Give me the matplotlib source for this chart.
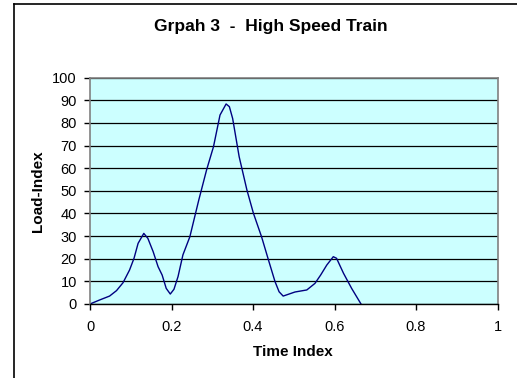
import matplotlib
matplotlib.use("Agg")
import matplotlib.pyplot as plt
from matplotlib.lines import Line2D

plt.rcParams['font.family'] = ['Liberation Sans', 'DejaVu Sans']

# Time index vs load index
time_idx = [0, 0.024, 0.048, 0.065, 0.081, 0.097, 0.108, 0.118, 0.132, 0.142,
            0.155, 0.167, 0.177, 0.187, 0.197, 0.206, 0.216, 0.228, 0.245, 0.267,
            0.286, 0.303, 0.319, 0.334, 0.342, 0.350, 0.366, 0.385, 0.401, 0.421,
            0.438, 0.454, 0.464, 0.474, 0.503, 0.532, 0.552, 0.566, 0.581, 0.597,
            0.605, 0.622, 0.642, 0.665]
load_idx = [0, 1.8, 3.5, 5.9, 9.4, 15, 20.2, 26.8, 31.2, 29,
            23.1, 16.5, 12.8, 6.9, 4.4, 6.5, 12.1, 21.7, 29.7, 46,
            59.2, 69.5, 83.5, 88.4, 87.2, 82, 65.1, 50.4, 40.1, 29.7,
            19.4, 9.9, 5.4, 3.5, 5.3, 6.2, 9.1, 12.8, 17.2, 20.9,
            20.2, 13.6, 6.9, 0]

x_ticks = [0, 0.2, 0.4, 0.6, 0.8, 1]
x_labels = ['0', '0.2', '0.4', '0.6', '0.8', '1']
y_ticks = list(range(0, 101, 10))

fig = plt.figure(figsize=(5.17, 3.78), dpi=100)
ax = fig.add_axes([0.1741, 0.1958, 0.7882, 0.5986])
ax.set_facecolor('#CCFFFF')

ax.plot(time_idx, load_idx, color='#000080', lw=1.0)

ax.set_xlim(0, 1)
ax.set_ylim(0, 100)
ax.set_xticks(x_ticks)
ax.set_xticklabels(x_labels)
ax.set_yticks(y_ticks)
ax.tick_params(axis='both', direction='out', length=4, width=1, labelsize=10.5,
               color='black')
ax.tick_params(axis='x', pad=7.5)
ax.tick_params(axis='y', pad=5.5)
ax.yaxis.grid(True, color='black', lw=0.9)
ax.set_axisbelow(True)

for s in ['top', 'right', 'left']:
    ax.spines[s].set_color('#808080')
    ax.spines[s].set_linewidth(1.2)
ax.spines['bottom'].set_color('black')
ax.spines['bottom'].set_linewidth(1.0)

ax.set_xlabel('Time Index', fontsize=11, fontweight='bold')
ax.set_ylabel('Load-Index', fontsize=11, fontweight='bold')
ax.xaxis.set_label_coords(0.498, -0.212)
ax.xaxis.label.set_va('center')
ax.yaxis.set_label_coords(-0.128, 0.497)
ax.yaxis.label.set_va('center')
ax.yaxis.label.set_ha('center')

fig.text(0.523, 0.9286, 'Grpah 3  -  High Speed Train', ha='center', va='center',
         fontsize=12.5, fontweight='bold')

# chart frame (only left and top edges visible)
fig.add_artist(Line2D([13.5 / 517, 13.5 / 517], [0, 1 - 4 / 378],
                      transform=fig.transFigure, color='black', lw=1.2))
fig.add_artist(Line2D([13.5 / 517, 1], [1 - 4 / 378, 1 - 4 / 378],
                      transform=fig.transFigure, color='black', lw=1.2))

fig.savefig('out.png', dpi=100)
